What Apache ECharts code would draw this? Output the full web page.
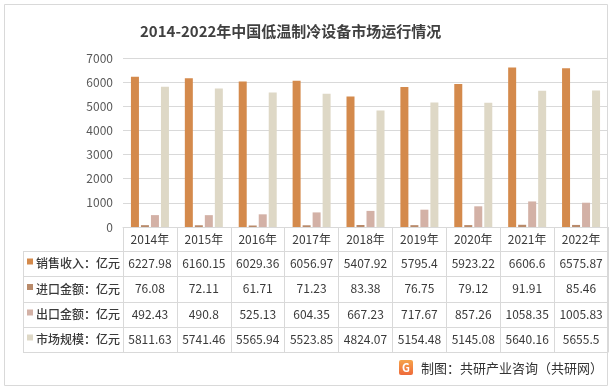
<!DOCTYPE html>
<html><head><meta charset="utf-8">
<script src="https://cdn.jsdelivr.net/npm/echarts@6/dist/echarts.min.js"></script>
<style>html,body{margin:0;padding:0;background:#fff}#c{width:613px;height:390px}</style>
</head><body><div id="c"></div>
<script>
const years = ['2014年','2015年','2016年','2017年','2018年','2019年','2020年','2021年','2022年'];
const sales = [6227.98, 6160.15, 6029.36, 6056.97, 5407.92, 5795.4, 5923.22, 6606.6, 6575.87];
const imports = [76.08, 72.11, 61.71, 71.23, 83.38, 76.75, 79.12, 91.91, 85.46];
const exports_ = [492.43, 490.8, 525.13, 604.35, 667.23, 717.67, 857.26, 1058.35, 1005.83];
const market = [5811.63, 5741.46, 5565.94, 5523.85, 4824.07, 5154.48, 5145.08, 5640.16, 5655.5];
const rowNames = ['销售收入：亿元','进口金额：亿元','出口金额：亿元','市场规模：亿元'];
const yTicks = [0, 1000, 2000, 3000, 4000, 5000, 6000, 7000];
const colors = ['#D48A4C','#B98A6A','#D3B1A6','#DED8C6'];
const rows = [sales, imports, exports_, market];

const FONT = '"Noto Sans CJK SC", "Noto Sans", sans-serif';
const LINE = '#d9d9d9';
const TXT = '#3a3a3a';
const gridLeft = 123, gridTop = 58, gridBottomY = 227, gridRightX = 608;
const rowOffsets = [24, 49, 75, 100, 125];

const chart = echarts.init(document.getElementById('c'));

const xAxes = [{
  type: 'category', data: years, gridIndex: 0, position: 'bottom',
  axisLine: {lineStyle: {color: LINE}},
  axisTick: {show: true, interval: 0, length: 125, lineStyle: {color: LINE}},
  axisLabel: {interval: 0, margin: 6, fontSize: 12, color: TXT, fontFamily: FONT}
}];
rows.forEach((arr, r) => {
  xAxes.push({
    type: 'category', data: years, gridIndex: 0, position: 'bottom', offset: rowOffsets[r],
    axisLine: {lineStyle: {color: LINE}},
    axisTick: {show: false},
    axisLabel: {interval: 0, margin: 6, fontSize: 12, color: TXT, fontFamily: FONT,
      formatter: (v, i) => String(arr[i])}
  });
});
xAxes.push({
  type: 'category', data: years, gridIndex: 0, position: 'bottom', offset: rowOffsets[4],
  axisLine: {lineStyle: {color: LINE}}, axisTick: {show: false}, axisLabel: {show: false}
});

const graphics = [
  {type: 'rect', shape: {x: 4.5, y: 4.5, width: 603, height: 381}, style: {fill: null, stroke: LINE, lineWidth: 1}, silent: true},
  {type: 'line', shape: {x1: 23.5, y1: gridBottomY + rowOffsets[0], x2: 23.5, y2: gridBottomY + rowOffsets[4]}, style: {stroke: LINE, lineWidth: 1}}
];
rowOffsets.forEach(o => {
  graphics.push({type: 'line', shape: {x1: 23, y1: gridBottomY + o + 0.5, x2: gridLeft, y2: gridBottomY + o + 0.5}, style: {stroke: LINE, lineWidth: 1}});
});
rowNames.forEach((n, r) => {
  const cy = gridBottomY + (rowOffsets[r] + rowOffsets[r + 1]) / 2;
  graphics.push({type: 'rect', shape: {x: 27, y: cy - 5, width: 6, height: 6}, style: {fill: colors[r]}});
  graphics.push({type: 'text', x: 36, y: cy, style: {text: n, font: '500 12px ' + FONT, fill: TXT, verticalAlign: 'middle', textAlign: 'left'}});
});
graphics.push({type: 'rect', shape: {x: 399, y: 360, width: 14, height: 15, r: 2},
  style: {fill: new echarts.graphic.LinearGradient(0, 0, 0, 1, [{offset: 0, color: '#F6A34A'}, {offset: 1, color: '#EE6A3A'}])}});
graphics.push({type: 'text', x: 406, y: 368, style: {text: 'G', font: 'bold 11px ' + FONT, fill: '#fff', textAlign: 'center', verticalAlign: 'middle'}});
graphics.push({type: 'text', x: 421, y: 368, style: {text: '制图：共研产业咨询（共研网）', font: '13px ' + FONT, fill: '#333', textAlign: 'left', verticalAlign: 'middle'}});

const names = ['销售收入','进口金额','出口金额','市场规模'];
chart.setOption({
  animation: false,
  title: {text: '2014-2022年中国低温制冷设备市场运行情况', left: 135, top: 19,
    textStyle: {fontSize: 15, fontWeight: 'bold', color: '#404040', fontFamily: FONT}},
  grid: {left: gridLeft, top: gridTop, right: 613 - gridRightX, bottom: 390 - gridBottomY, containLabel: false},
  xAxis: xAxes,
  yAxis: {type: 'value', min: yTicks[0], max: yTicks[yTicks.length - 1], interval: 1000,
    axisLine: {show: false}, axisTick: {show: false},
    splitLine: {lineStyle: {color: LINE}},
    axisLabel: {margin: 10, fontSize: 12, color: '#595959', fontFamily: FONT, formatter: v => String(v)}},
  series: rows.map((arr, r) => ({
    type: 'bar', name: names[r], data: arr, xAxisIndex: 0,
    barWidth: 8, barGap: '25%', itemStyle: {color: colors[r]}
  })),
  graphic: graphics
});
</script></body></html>
